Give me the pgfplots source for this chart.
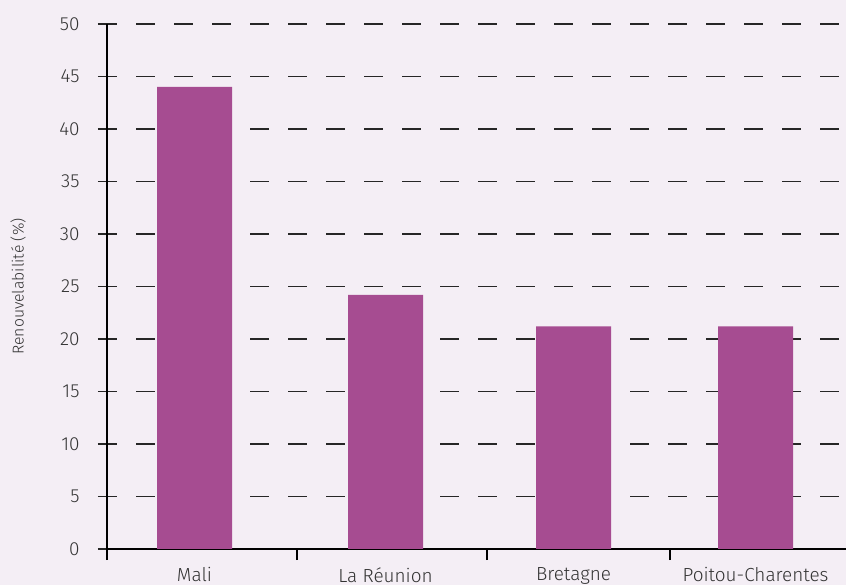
\documentclass[border=0pt]{standalone}
\usepackage{pgfplots}
\pgfplotsset{compat=1.18}
\usepackage{fontspec}
\setmainfont{Fira Sans Light}
\definecolor{bg}{HTML}{F4EEF5}
\definecolor{barc}{HTML}{A64C91}
\definecolor{txt}{HTML}{333333}
\pgfplotsset{
  layers/barsunder/.define layer set={axis background,axis grid,main,axis ticks,axis lines,axis tick labels,axis descriptions,axis foreground}{},
}
\begin{document}
\begin{tikzpicture}
\fill[bg] (0,0) rectangle (846bp,585bp);
\begin{axis}[
    set layers=barsunder,
    at={(107bp,36bp)}, anchor=south west,
    scale only axis, width=739bp, height=525bp,
    xmin=0, xmax=7.39, ymin=0, ymax=50,
    axis x line*=bottom, axis y line*=left,
    axis line style={black, line width=2.2bp},
    ytick={0,5,...,50},
    ymajorgrids=true,
    grid style={black!85, line width=1.5bp, dash pattern=on 19bp off 19bp, dash phase=9bp},
    y tick style={black!85, line width=1.5bp},
    tick align=center,
    major tick length=18bp,
    xtick={0.875,2.785,4.665,6.485},
    xticklabels={Mali,La Réunion,Bretagne,Poitou-Charentes},
    x tick style={draw=none},
    extra x ticks={0,1.9,3.8,5.63},
    extra x tick labels={},
    extra x tick style={x tick style={draw=black, line width=1.2bp}, tick align=outside, major tick length=11bp},
    /pgf/number format/assume math mode=true,
    tick label style={text=txt, font=\fontsize{19}{22}\selectfont},
    yticklabel style={anchor=east, xshift=-15bp},
    xticklabel style={anchor=north, yshift=-6bp},
    ylabel={Renouvelabilité (\%)},
    ylabel style={text=txt, font=\fontsize{15.8}{18}\selectfont, at={(axis description cs:-0.1204,0.5)}, anchor=center},
]
\addplot[ybar, fill=barc, draw=none, bar width=75bp] coordinates {
  (0.875,44.0) (2.785,24.2) (4.665,21.2) (6.485,21.2)
};
\end{axis}
\pgfresetboundingbox
\path[use as bounding box] (0,0) rectangle (846bp,585bp);
\end{tikzpicture}
\end{document}
